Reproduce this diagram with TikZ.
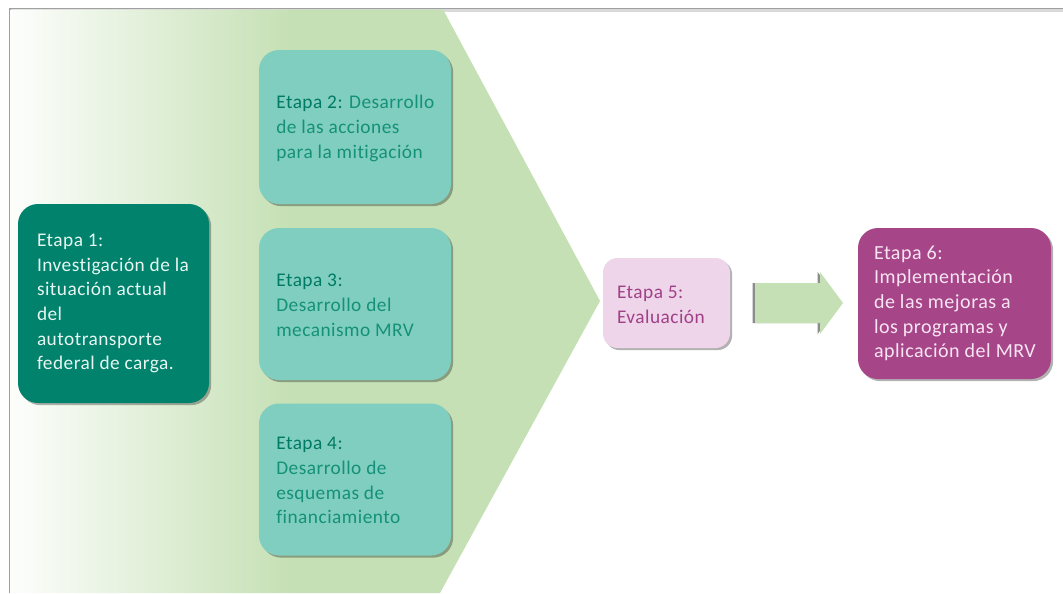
\documentclass[tikz,border=0pt]{standalone}
\usepackage{fontspec}
\setmainfont{Carlito}[Ligatures=NoCommon, LetterSpace=2.5]
\usetikzlibrary{shadows}

\definecolor{chevgreen}{RGB}{197,224,180}
\definecolor{deepteal}{RGB}{0,130,108}
\definecolor{softteal}{RGB}{128,206,191}
\definecolor{tealtext}{RGB}{20,145,120}
\definecolor{tealhead}{RGB}{0,122,100}
\definecolor{lightpink}{RGB}{238,213,233}
\definecolor{plum}{RGB}{166,70,137}
\definecolor{plumtext}{RGB}{160,64,136}
\definecolor{paletext}{RGB}{232,246,241}
\definecolor{pinktext}{RGB}{248,228,242}
\definecolor{framegray}{RGB}{160,160,160}

% white on the left, full green from a bit under half the width onwards
\pgfdeclarehorizontalshading{chevfade}{100bp}{color(0bp)=(white); color(25bp)=(white!96!chevgreen); color(49bp)=(chevgreen); color(100bp)=(chevgreen)}

\begin{document}
\begin{tikzpicture}[x=0.75pt, y=-0.75pt,
  stage/.style={rounded corners=15pt, inner sep=0pt,
    drop shadow={shadow xshift=1.6pt, shadow yshift=-1.6pt, opacity=0.3, fill=black}},
  bigstage/.style={stage, minimum width=144pt, minimum height=114pt},
  label/.style={anchor=west, align=left, inner sep=0pt,
    font=\fontsize{14.5pt}{18.5pt}\selectfont}]

\useasboundingbox (0,0) rectangle (1063,593);
\fill[white] (0,0) rectangle (1063,593);

% frame edges
\draw[gray!30, line width=2pt] (10,10.5) -- (1063,10.5);
\draw[framegray, line width=1.2pt] (9,8.5) -- (1063,8.5);
\draw[gray!35, line width=2pt] (11.5,9) -- (11.5,593);
\draw[framegray, line width=1.5pt] (9.5,8) -- (9.5,593);

% large background chevron
\path[shading=chevfade] (10.5,9.5) -- (443,9.5) -- (600,301) -- (440,593) -- (10.5,593) -- cycle;

% stage boxes
\node[stage, fill=deepteal, minimum width=143.25pt, minimum height=149.25pt] (b1) at (113.5,303.5) {};
\node[bigstage, fill=softteal, minimum height=115.5pt] (b2) at (355,127) {};
\node[bigstage, fill=softteal] (b3) at (355,304) {};
\node[bigstage, fill=softteal] (b4) at (355,479.5) {};
\node[stage, rounded corners=11pt, fill=lightpink, minimum width=95.25pt, minimum height=67.5pt] (b5) at (666.5,303) {};
\node[bigstage, fill=plum, minimum width=144.75pt, minimum height=113.25pt] (b6) at (954.5,303.5) {};

% block arrow between stage 5 and stage 6
\fill[chevgreen, drop shadow={shadow xshift=-1.8pt, shadow yshift=0pt, opacity=0.45, fill=black}]
  (755,283) -- (820,283) -- (820,272) -- (843,303) -- (820,334) -- (820,323) -- (755,323) -- cycle;

% stage texts
\node[label, text=paletext] (t1) at ([xshift=14.25pt]b1.west)
  {Etapa 1:\\Investigación de la\\situación actual\\del\\autotransporte\\federal de carga.};
\node[label, text=tealtext] (t2) at ([xshift=13pt, yshift=-1pt]b2.west)
  {\textcolor{tealhead}{Etapa 2:} Desarrollo\\de las acciones\\para la mitigación};
\node[label, text=tealtext] (t3) at ([xshift=13pt, yshift=-1pt]b3.west)
  {\textcolor{tealhead}{Etapa 3:}\\Desarrollo del\\mecanismo MRV};
\node[label, text=tealtext] (t4) at ([xshift=13pt, yshift=-1pt]b4.west)
  {\textcolor{tealhead}{Etapa 4:}\\Desarrollo de\\esquemas de\\financiamiento};
\node[label, text=plumtext] (t5) at ([xshift=10.5pt, yshift=-1.5pt]b5.west)
  {Etapa 5:\\Evaluación};
\node[label, text=pinktext, font=\fontsize{15pt}{18.5pt}\selectfont] (t6) at ([xshift=12pt]b6.west)
  {Etapa 6:\\Implementación\\de las mejoras a\\los programas y\\aplicación del MRV};
\end{tikzpicture}
\end{document}
